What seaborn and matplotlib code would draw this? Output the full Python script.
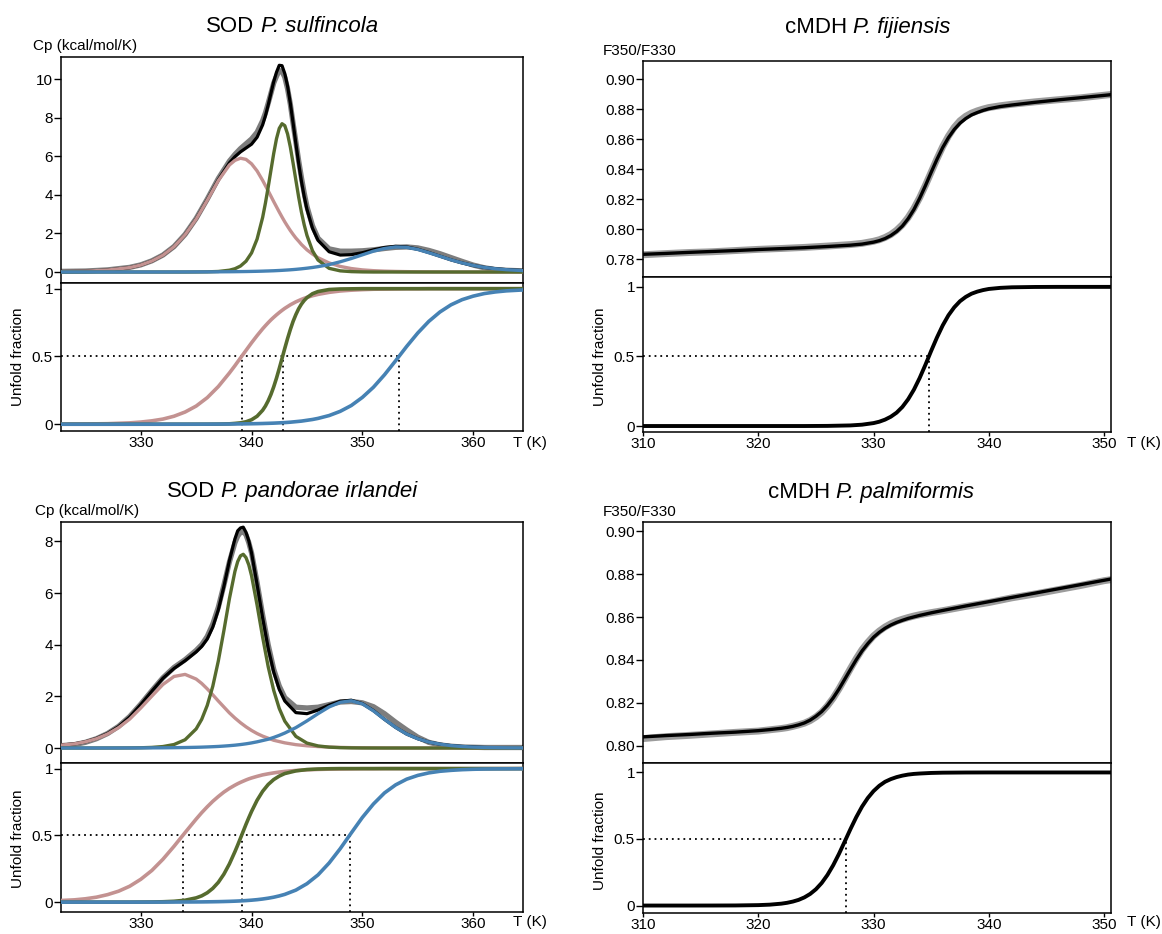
import matplotlib
matplotlib.use("Agg")
import matplotlib.pyplot as plt
import seaborn as sns

W, H = 1162, 934

# ---------------- Panel A : SOD P. sulfincola (DSC) ----------------
T_A = [322.5, 325, 327, 329, 330, 331, 332, 333, 334, 335, 336, 337, 338,
       338.5, 339, 339.5, 340, 340.5, 341, 341.25, 341.5, 341.75, 342, 342.25, 342.5, 342.75, 343, 343.25, 343.5, 343.75, 344, 344.25, 344.5, 344.75, 345, 345.5, 346,
       347, 348, 349, 350, 351, 352, 353, 354, 355, 356, 357, 358, 359, 360, 361, 362, 363, 365]
raw_A = [0.03, 0.05, 0.11, 0.24, 0.37, 0.58, 0.88, 1.32, 1.95, 2.78, 3.78, 4.85, 5.75,
         6.10, 6.40, 6.65, 6.90, 7.25, 7.85, 8.25, 8.75, 9.27, 9.80, 10.15, 10.45, 10.40, 10.10, 9.50, 8.70, 7.70, 6.75, 5.78, 4.90, 4.10, 3.40, 2.40, 1.75,
         1.20, 1.08, 1.08, 1.10, 1.15, 1.22, 1.28, 1.30, 1.25, 1.12, 0.95, 0.75, 0.55, 0.36, 0.22, 0.13, 0.09, 0.05]
fit_A = [0.02, 0.04, 0.10, 0.23, 0.36, 0.57, 0.87, 1.31, 1.93, 2.75, 3.74, 4.78, 5.66,
         5.98, 6.23, 6.43, 6.63, 6.99, 7.63, 8.10, 8.66, 9.27, 9.87, 10.36, 10.72, 10.70, 10.29, 9.64, 8.75, 7.72, 6.66, 5.64, 4.71, 3.92, 3.25, 2.27, 1.64,
         1.05, 0.88, 0.90, 1.00, 1.15, 1.27, 1.33, 1.30, 1.18, 1.01, 0.82, 0.63, 0.47, 0.34, 0.24, 0.17, 0.12, 0.06]
cp_pink_A = [0.02, 0.04, 0.10, 0.23, 0.36, 0.57, 0.87, 1.31, 1.93, 2.74, 3.72, 4.74, 5.55,
             5.79, 5.90, 5.84, 5.61, 5.24, 4.75, 4.48, 4.21, 3.93, 3.65, 3.38, 3.11, 2.85, 2.60, 2.37, 2.15, 1.95, 1.76, 1.60, 1.43, 1.29, 1.15, 0.93, 0.74,
             0.47, 0.29, 0.18, 0.11, 0.07, 0.045, 0.03, 0.02, 0.012, 0.008, 0.005, 0.003, 0.002, 0.001, 0.001, 0.0, 0.0, 0.0]
cp_green_A = [0, 0, 0, 0, 0, 0, 0, 0, 0, 0.003, 0.009, 0.028, 0.094,
              0.17, 0.31, 0.56, 0.99, 1.71, 2.83, 3.57, 4.40, 5.28, 6.15, 6.91, 7.45, 7.69, 7.59, 7.16, 6.48, 5.64, 4.76, 3.89, 3.11, 2.45, 1.90, 1.10, 0.62,
              0.19, 0.06, 0.02, 0.005, 0, 0, 0, 0, 0, 0, 0, 0, 0, 0, 0, 0, 0, 0]
cp_blue_A = [0.0, 0.0, 0.0, 0.001, 0.001, 0.001, 0.001, 0.002, 0.003, 0.005, 0.007, 0.010, 0.014,
             0.017, 0.021, 0.025, 0.031, 0.037, 0.045, 0.050, 0.054, 0.060, 0.065, 0.072, 0.079, 0.087, 0.096, 0.105, 0.115, 0.126, 0.138, 0.152, 0.166, 0.182, 0.198, 0.235, 0.278,
             0.385, 0.53, 0.70, 0.89, 1.08, 1.22, 1.30, 1.28, 1.17, 1.00, 0.82, 0.63, 0.47, 0.34, 0.24, 0.17, 0.12, 0.057]
frac_pink_A = [0.001, 0.002, 0.004, 0.010, 0.016, 0.025, 0.038, 0.059, 0.090, 0.134, 0.196, 0.278, 0.378,
               0.432, 0.489, 0.545, 0.601, 0.654, 0.704, 0.727, 0.749, 0.770, 0.789, 0.807, 0.824, 0.840, 0.855, 0.868, 0.881, 0.892, 0.903, 0.912, 0.921, 0.929, 0.936, 0.948, 0.958,
               0.973, 0.983, 0.989, 0.993, 0.996, 0.997, 0.998, 0.999, 0.999, 1.0, 1.0, 1.0, 1.0, 1.0, 1.0, 1.0, 1.0, 1.0]
frac_green_A = [0, 0, 0, 0, 0, 0, 0, 0, 0, 0.0001, 0.0003, 0.0009, 0.003,
                0.006, 0.010, 0.018, 0.033, 0.059, 0.103, 0.134, 0.173, 0.220, 0.276, 0.340, 0.411, 0.485, 0.560, 0.632, 0.699, 0.759, 0.809, 0.852, 0.886, 0.913, 0.934, 0.963, 0.979,
                0.994, 0.998, 0.999, 1.0, 1.0, 1.0, 1.0, 1.0, 1.0, 1.0, 1.0, 1.0, 1.0, 1.0, 1.0, 1.0, 1.0, 1.0]
frac_blue_A = [0, 0, 0, 0, 0.0001, 0.0001, 0.0001, 0.0002, 0.0003, 0.0004, 0.0006, 0.001, 0.0015,
               0.0018, 0.0023, 0.0028, 0.0035, 0.0043, 0.0053, 0.006, 0.0066, 0.0073, 0.008, 0.009, 0.010, 0.011, 0.012, 0.0135, 0.015, 0.017, 0.019, 0.021, 0.023, 0.026, 0.029, 0.035, 0.043,
               0.064, 0.095, 0.138, 0.198, 0.273, 0.365, 0.468, 0.574, 0.673, 0.759, 0.828, 0.881, 0.919, 0.945, 0.964, 0.976, 0.984, 0.993]
tm_A = [339.1, 342.8, 353.3]

# ---------------- Panel C : SOD P. pandorae irlandei (DSC) ----------------
T_C = [322.5, 324, 325, 326, 327, 328, 329, 330, 331, 332, 333, 334, 335,
       335.5, 336, 336.5, 337, 337.5, 338, 338.5, 338.75, 339, 339.25, 339.5, 339.75, 340, 340.5, 341, 341.5, 342, 342.5, 343,
       344, 345, 346, 347, 348, 349, 350, 351, 352, 353, 354, 355, 356, 357, 358, 359, 360, 361, 362, 363, 365]
raw_C = [0.08, 0.13, 0.22, 0.36, 0.56, 0.84, 1.22, 1.70, 2.22, 2.72, 3.12, 3.42, 3.78,
         4.00, 4.32, 4.80, 5.45, 6.30, 7.20, 7.95, 8.20, 8.35, 8.38, 8.25, 7.95, 7.55, 6.40, 5.15, 4.00, 3.05, 2.40, 1.95,
         1.58, 1.55, 1.58, 1.68, 1.78, 1.80, 1.75, 1.60, 1.33, 1.00, 0.70, 0.42, 0.22, 0.12, 0.07, 0.04, 0.03, 0.02, 0.02, 0.02, 0.02]
fit_C = [0.10, 0.16, 0.24, 0.37, 0.56, 0.83, 1.20, 1.68, 2.20, 2.70, 3.08, 3.38, 3.72,
         3.93, 4.22, 4.68, 5.35, 6.25, 7.25, 8.10, 8.41, 8.52, 8.55, 8.35, 8.02, 7.55, 6.33, 5.04, 3.87, 2.94, 2.27, 1.82,
         1.37, 1.33, 1.47, 1.66, 1.81, 1.85, 1.72, 1.45, 1.11, 0.80, 0.54, 0.36, 0.23, 0.15, 0.09, 0.06, 0.04, 0.02, 0.01, 0.01, 0.0]
cp_pink_C = [0.10, 0.16, 0.24, 0.36, 0.54, 0.79, 1.12, 1.55, 2.01, 2.46, 2.77, 2.85, 2.67,
             2.50, 2.29, 2.06, 1.82, 1.59, 1.36, 1.16, 1.07, 0.98, 0.90, 0.82, 0.75, 0.68, 0.56, 0.46, 0.38, 0.30, 0.25, 0.20,
             0.13, 0.086, 0.056, 0.037, 0.024, 0.015, 0.010, 0.006, 0.004, 0.003, 0.002, 0.001, 0.001, 0, 0, 0, 0, 0, 0, 0, 0]
cp_green_C = [0, 0, 0, 0, 0.001, 0.002, 0.004, 0.010, 0.024, 0.057, 0.135, 0.32, 0.74,
              1.11, 1.65, 2.39, 3.37, 4.54, 5.78, 6.84, 7.22, 7.44, 7.50, 7.37, 7.09, 6.67, 5.53, 4.29, 3.15, 2.23, 1.53, 1.04,
              0.45, 0.19, 0.081, 0.034, 0.014, 0.006, 0.002, 0.001, 0, 0, 0, 0, 0, 0, 0, 0, 0, 0, 0, 0, 0]
cp_blue_C = [0.0, 0.0, 0.001, 0.001, 0.001, 0.002, 0.003, 0.004, 0.006, 0.008, 0.013, 0.019, 0.028,
             0.034, 0.042, 0.051, 0.061, 0.075, 0.091, 0.11, 0.122, 0.134, 0.148, 0.163, 0.18, 0.198, 0.24, 0.29, 0.34, 0.41, 0.49, 0.58,
             0.79, 1.05, 1.33, 1.59, 1.77, 1.83, 1.71, 1.44, 1.11, 0.80, 0.54, 0.36, 0.23, 0.15, 0.094, 0.059, 0.037, 0.023, 0.014, 0.009, 0.003]
frac_pink_C = [0.011, 0.017, 0.025, 0.037, 0.056, 0.082, 0.119, 0.171, 0.237, 0.321, 0.418, 0.521, 0.622,
               0.670, 0.714, 0.755, 0.791, 0.824, 0.852, 0.876, 0.887, 0.897, 0.906, 0.915, 0.923, 0.930, 0.942, 0.953, 0.961, 0.968, 0.974, 0.979,
               0.986, 0.991, 0.994, 0.996, 0.997, 0.998, 0.999, 0.999, 1.0, 1.0, 1.0, 1.0, 1.0, 1.0, 1.0, 1.0, 1.0, 1.0, 1.0, 1.0, 1.0]
frac_green_C = [0, 0, 0, 0, 0, 0, 0, 0.0005, 0.0012, 0.0027, 0.0062, 0.0141, 0.0318,
                0.047, 0.070, 0.103, 0.148, 0.209, 0.286, 0.378, 0.4275, 0.479, 0.531, 0.583, 0.632, 0.679, 0.763, 0.830, 0.881, 0.918, 0.944, 0.963,
                0.983, 0.993, 0.997, 0.999, 1.0, 1.0, 1.0, 1.0, 1.0, 1.0, 1.0, 1.0, 1.0, 1.0, 1.0, 1.0, 1.0, 1.0, 1.0, 1.0, 1.0]
frac_blue_C = [0, 0, 0, 0, 0, 0, 0, 0.0001, 0.0002, 0.0003, 0.0005, 0.0009, 0.0014,
               0.0017, 0.0022, 0.0028, 0.0035, 0.0045, 0.0057, 0.0072, 0.0081, 0.0091, 0.0103, 0.0115, 0.013, 0.0146, 0.0184, 0.0233, 0.0294, 0.0369, 0.0465, 0.058,
               0.090, 0.138, 0.204, 0.293, 0.400, 0.518, 0.634, 0.735, 0.818, 0.878, 0.921, 0.949, 0.968, 0.980, 0.987, 0.992, 0.995, 0.997, 0.998, 0.9985, 0.9995]
tm_C = [333.8, 339.1, 348.85]

# ---------------- Panel B : cMDH P. fijiensis (fluorescence) ----------------
T_B = [310, 312, 314, 316, 318, 320, 322, 324, 326, 328, 329, 330,
       330.5, 331, 331.5, 332, 332.5, 333, 333.5, 334, 334.5, 335, 335.5, 336, 336.5, 337, 337.5, 338, 338.5, 339, 339.5, 340,
       341, 342, 344, 346, 348, 350, 351]
raw_B = [0.7830, 0.7838, 0.7845, 0.7850, 0.7858, 0.7866, 0.7872, 0.7879, 0.7888, 0.7898, 0.7906, 0.7920,
         0.7930, 0.7945, 0.7965, 0.7993, 0.8030, 0.8078, 0.8138, 0.8210, 0.8292, 0.8380, 0.8468, 0.8550, 0.8620, 0.8678, 0.8722, 0.8752, 0.8773, 0.8788, 0.8800, 0.8810,
         0.8822, 0.8832, 0.8848, 0.8862, 0.8875, 0.8892, 0.8900]
fit_B = [0.7833, 0.7839, 0.7846, 0.7852, 0.7858, 0.7865, 0.7871, 0.7877, 0.7885, 0.7894, 0.7901, 0.7914,
         0.7924, 0.7938, 0.7958, 0.7985, 0.8021, 0.8070, 0.8131, 0.8206, 0.8290, 0.8379, 0.8465, 0.8544, 0.8610, 0.8664, 0.8706, 0.8737, 0.8761, 0.8777, 0.8791, 0.8802,
         0.8817, 0.8827, 0.8845, 0.8861, 0.8876, 0.8891, 0.8899]
frac_B = [0, 0, 0, 0, 0, 0, 0, 0, 0.0009, 0.0043, 0.0096, 0.021,
          0.031, 0.046, 0.067, 0.096, 0.137, 0.192, 0.261, 0.345, 0.440, 0.540, 0.636, 0.723, 0.796, 0.853, 0.897, 0.928, 0.951, 0.966, 0.977, 0.985,
          0.993, 0.997, 0.9994, 1.0, 1.0, 1.0, 1.0]
tm_B = [334.8]

# ---------------- Panel D : cMDH P. palmiformis (fluorescence) ----------------
T_D = [310, 312, 314, 316, 318, 320, 321, 322,
       322.5, 323, 323.5, 324, 324.5, 325, 325.5, 326, 326.5, 327, 327.5, 328, 328.5, 329, 329.5, 330, 330.5, 331, 331.5, 332, 332.5, 333, 333.5, 334,
       335, 336, 338, 340, 342, 344, 346, 348, 350, 351]
raw_D = [0.8033, 0.8042, 0.8048, 0.8055, 0.8062, 0.8068, 0.8074, 0.8080,
         0.8084, 0.8090, 0.8097, 0.8105, 0.8117, 0.8134, 0.8156, 0.8186, 0.8222, 0.8265, 0.8312, 0.8360, 0.8406, 0.8448, 0.8482, 0.8512, 0.8535, 0.8554, 0.8569, 0.8581, 0.8590, 0.8598, 0.8605, 0.8611,
         0.8621, 0.8630, 0.8650, 0.8668, 0.8690, 0.8708, 0.8728, 0.8748, 0.8770, 0.8778]
fit_D = [0.8041, 0.8047, 0.8052, 0.8058, 0.8063, 0.8070, 0.8075, 0.8081,
         0.8085, 0.8090, 0.8097, 0.8106, 0.8119, 0.8137, 0.8159, 0.8188, 0.8223, 0.8264, 0.8310, 0.8356, 0.8401, 0.8442, 0.8476, 0.8506, 0.8529, 0.8548, 0.8563, 0.8575, 0.8585, 0.8594, 0.8601, 0.8608,
         0.8620, 0.8631, 0.8652, 0.8672, 0.8692, 0.8712, 0.8732, 0.8752, 0.8772, 0.8782]
frac_D = [0, 0, 0, 0.0002, 0.0007, 0.0032, 0.0067, 0.0142,
          0.0206, 0.0299, 0.0427, 0.0613, 0.0871, 0.1224, 0.1694, 0.2297, 0.303, 0.388, 0.481, 0.575, 0.664, 0.743, 0.808, 0.860, 0.900, 0.930, 0.950, 0.965, 0.976, 0.984, 0.989, 0.992,
          0.9963, 0.9983, 0.9996, 1.0, 1.0, 1.0, 1.0, 1.0, 1.0, 1.0]
tm_D = [327.6]

# ---------------- labels ----------------
title_plain = ["SOD", "cMDH", "SOD", "cMDH"]
title_ital = ["P. sulfincola", "P. fijiensis", "P. pandorae irlandei", "P. palmiformis"]
ylab_dsc = "Cp (kcal/mol/K)"
ylab_fl = "F350/F330"
ylab_frac = "Unfold fraction"
xlab = "T (K)"
xt_dsc = [330, 340, 350, 360]
xt_fl = [310, 320, 330, 340, 350]
frac_ticks = [0, 0.5, 1]
frac_ticklabels = ["0", "0.5", "1"]

PINK, GREEN, BLUE = "#c39291", "#566b2e", "#4682b4"
GRAY_DSC, GRAY_FL = "#7d7d7d", "#9c9c9c"

sns.set_style("ticks")
plt.rcParams['font.family'] = ['Liberation Sans', 'DejaVu Sans']
plt.rcParams['text.color'] = 'black'
plt.rcParams['axes.labelcolor'] = 'black'
plt.rcParams['xtick.color'] = 'black'
plt.rcParams['ytick.color'] = 'black'

fig = plt.figure(figsize=(W / 100, H / 100), dpi=100)


def axes_px(l, t, r, b):
    return fig.add_axes([l / W, 1 - b / H, (r - l) / W, (b - t) / H])


def style(ax):
    for s in ax.spines.values():
        s.set_visible(True)
        s.set_linewidth(1.1)
        s.set_color("black")
    ax.tick_params(axis="y", direction="out", length=4.8, width=1.0, labelsize=11, pad=1.0, colors="black")
    ax.tick_params(axis="x", direction="out", length=3.2, width=1.0, labelsize=11, pad=0.5, colors="black")
    ax.set_xlabel("")
    ax.set_ylabel("")


def line(ax, x, y, color, lw, z):
    sns.lineplot(x=x, y=y, ax=ax, color=color, linewidth=lw, legend=False, zorder=z)


def dotted(ax, xlim, ylim, tms):
    ax.plot([xlim[0], max(tms)], [0.5, 0.5], color="black", lw=1.3, ls=(0, (1, 2.2)), zorder=1)
    for tm in tms:
        ax.plot([tm, tm], [ylim[0], 0.5], color="black", lw=1.3, ls=(0, (1, 2.2)), zorder=1)


def ftext(x, y, s, **kw):
    return fig.text(x / W, 1 - y / H, s, color="black", **kw)


def mixed_title(xc, yb, plain, ital, fs=16):
    t1 = ftext(0, yb, plain, fontsize=fs, ha="left", va="baseline")
    t2 = ftext(0, yb, ital, fontsize=fs, style="italic", ha="left", va="baseline")
    r = fig.canvas.get_renderer()
    w1 = t1.get_window_extent(r).width
    w2 = t2.get_window_extent(r).width
    gap = fs * 100 / 72 * 0.278
    x0 = xc - (w1 + gap + w2) / 2
    t1.set_x(x0 / W)
    t2.set_x((x0 + w1 + gap) / W)


def dsc_panel(box, xlim, ylim_t, yt, ylim_b, T, raw, fit, comps, fracs, tms):
    l, t, m, r, b = box
    axt = axes_px(l, t, r, m)
    axb = axes_px(l, m, r, b)
    line(axt, T, raw, GRAY_DSC, 3.8, 2)
    line(axt, T, fit, "black", 2.3, 3)
    for c, col in zip(comps, [PINK, GREEN, BLUE]):
        line(axt, T, c, col, 2.4, 4)
    axt.set_xlim(*xlim); axt.set_ylim(*ylim_t)
    axt.set_yticks(yt); axt.set_yticklabels([str(v) for v in yt])
    axt.set_xticks([])
    style(axt)
    dotted(axb, xlim, ylim_b, tms)
    for f, col in zip(fracs, [PINK, GREEN, BLUE]):
        line(axb, T, f, col, 2.6, 4)
    axb.set_xlim(*xlim); axb.set_ylim(*ylim_b)
    axb.set_yticks(frac_ticks); axb.set_yticklabels(frac_ticklabels)
    axb.set_xticks(xt_dsc); axb.set_xticklabels([str(v) for v in xt_dsc])
    style(axb)


def fl_panel(box, xlim, ylim_t, yt, ylim_b, T, raw, fit, frac, tms):
    l, t, m, r, b = box
    axt = axes_px(l, t, r, m)
    axb = axes_px(l, m, r, b)
    line(axt, T, raw, GRAY_FL, 5.0, 2)
    line(axt, T, fit, "black", 2.4, 3)
    axt.set_xlim(*xlim); axt.set_ylim(*ylim_t)
    axt.set_yticks(yt); axt.set_yticklabels([f"{v:.2f}" for v in yt])
    axt.set_xticks([])
    style(axt)
    dotted(axb, xlim, ylim_b, tms)
    line(axb, T, frac, "black", 2.8, 4)
    axb.set_xlim(*xlim); axb.set_ylim(*ylim_b)
    axb.set_yticks(frac_ticks); axb.set_yticklabels(frac_ticklabels)
    axb.set_xticks(xt_fl); axb.set_xticklabels([str(v) for v in xt_fl])
    style(axb)


dsc_panel((61, 57, 283, 523, 431), (322.8, 364.5), (-0.57, 11.15), [0, 2, 4, 6, 8, 10], (-0.05, 1.042),
          T_A, raw_A, fit_A, [cp_pink_A, cp_green_A, cp_blue_A], [frac_pink_A, frac_green_A, frac_blue_A], tm_A)
dsc_panel((61, 522, 763, 523, 912), (322.8, 364.5), (-0.58, 8.75), [0, 2, 4, 6, 8], (-0.074, 1.042),
          T_C, raw_C, fit_C, [cp_pink_C, cp_green_C, cp_blue_C], [frac_pink_C, frac_green_C, frac_blue_C], tm_C)
fl_panel((643, 61, 277, 1111, 432), (310, 350.6), (0.7682, 0.912), [0.78, 0.80, 0.82, 0.84, 0.86, 0.88, 0.90],
         (-0.043, 1.071), T_B, raw_B, fit_B, frac_B, tm_B)
fl_panel((643, 522, 763, 1111, 913), (310, 350.6), (0.7919, 0.9044), [0.80, 0.82, 0.84, 0.86, 0.88, 0.90],
         (-0.056, 1.071), T_D, raw_D, fit_D, frac_D, tm_D)

# titles
for (x, y), p, it in zip([(292, 32), (868, 33), (292, 497), (871, 498)], title_plain, title_ital):
    mixed_title(x, y, p, it)
# top y labels
for (x, y), s in zip([(33, 50), (603, 55), (35, 515), (603, 516)], [ylab_dsc, ylab_fl, ylab_dsc, ylab_fl]):
    ftext(x, y, s, fontsize=11, ha="left", va="baseline")
# unfold fraction labels
for (x, y) in [(18, 357), (600, 357), (18, 839), (600, 841)]:
    ftext(x, y, ylab_frac, fontsize=11, ha="center", va="center", rotation=90)
# T (K)
for (x, y) in [(530, 443), (1144, 443), (530, 922), (1144, 922)]:
    ftext(x, y, xlab, fontsize=11, ha="center", va="center")

fig.savefig("out.png", dpi=100)
